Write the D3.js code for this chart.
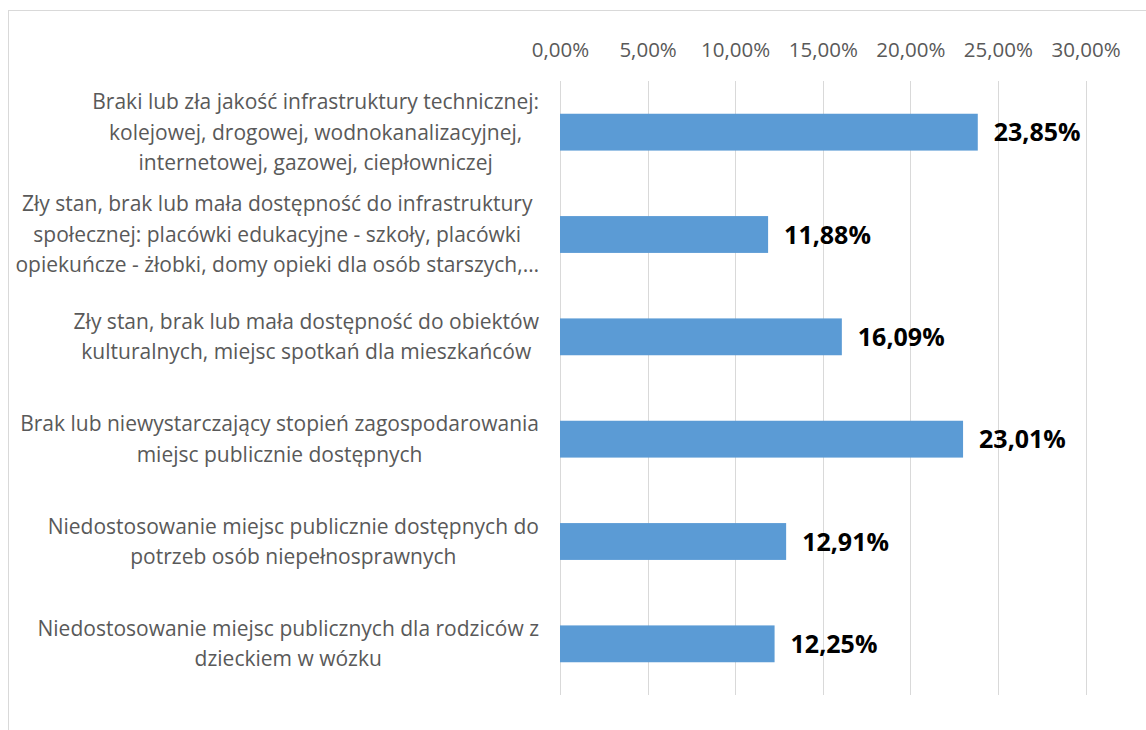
<!DOCTYPE html>
<html>
<head>
<meta charset="utf-8">
<script src="https://cdn.jsdelivr.net/npm/d3@7"></script>
<style>
  body { margin: 0; background: #fff; }
  svg { display: block; }
</style>
</head>
<body>
<script>
// category labels, already wrapped the way the chart shows them
const categories = [
  ["Braki lub zła jakość infrastruktury technicznej:", "kolejowej, drogowej, wodnokanalizacyjnej,", "internetowej, gazowej, ciepłowniczej"],
  ["Zły stan, brak lub mała dostępność do infrastruktury", "społecznej: placówki edukacyjne - szkoły, placówki", "opiekuńcze - żłobki, domy opieki dla osób starszych,…"],
  ["Zły stan, brak lub mała dostępność do obiektów", "kulturalnych, miejsc spotkań dla mieszkańców"],
  ["Brak lub niewystarczający stopień zagospodarowania", "miejsc publicznie dostępnych"],
  ["Niedostosowanie miejsc publicznie dostępnych do", "potrzeb osób niepełnosprawnych"],
  ["Niedostosowanie miejsc publicznych dla rodziców z", "dzieckiem w wózku"]
];
const values = [23.85, 11.88, 16.09, 23.01, 12.91, 12.25];
const ticks = [0, 5, 10, 15, 20, 25, 30];

const W = 1146, H = 730;
const font = "'Open Sans', 'Noto Sans', sans-serif";
const fmt = v => v.toFixed(2).replace(".", ",") + "%";

const svg = d3.select("body").append("svg")
  .attr("width", W).attr("height", H);

// chart frame
svg.append("rect")
  .attr("x", 8.5).attr("y", 10.5)
  .attr("width", W).attr("height", H)
  .attr("fill", "none").attr("stroke", "#d9d9d9");

const x = d3.scaleLinear().domain([0, 30]).range([560, 1085.5]);
const y = d3.scaleBand().domain(d3.range(values.length)).range([81, 695]).paddingInner(0.64).paddingOuter(0.32);

// gridlines
svg.append("g").selectAll("line").data(ticks).join("line")
  .attr("x1", d => Math.round(x(d)) + 0.5).attr("x2", d => Math.round(x(d)) + 0.5)
  .attr("y1", 81).attr("y2", 695)
  .attr("stroke", "#d9d9d9").attr("stroke-width", 1);

// top axis labels
const axis = d3.axisTop(x).tickValues(ticks).tickFormat(fmt).tickSize(0).tickPadding(0);
const ax = svg.append("g").attr("transform", "translate(0,57)").call(axis);
ax.select(".domain").remove();
ax.selectAll("text")
  .attr("font-family", font)
  .attr("font-size", 20.5)
  .attr("fill", "#595959");

// bars
svg.append("g").selectAll("rect").data(values).join("rect")
  .attr("x", x(0))
  .attr("y", (d, i) => y(i))
  .attr("width", d => x(d) - x(0))
  .attr("height", y.bandwidth())
  .attr("fill", "#5b9bd5");

// value labels
svg.append("g").selectAll("text").data(values).join("text")
  .attr("x", d => x(d) + 16)
  .attr("y", (d, i) => y(i) + y.bandwidth() / 2)
  .attr("dy", "0.36em")
  .attr("font-family", font)
  .attr("font-weight", "bold")
  .attr("font-size", 25)
  .attr("fill", "#000")
  .text(fmt);

// category labels: block right aligned, lines centred inside it
const lineH = 30.5;
const labelRight = 539;
const lab = svg.append("g").selectAll("g").data(categories).join("g");
lab.each(function (lines, i) {
  const g = d3.select(this);
  const cy = y(i) + y.bandwidth() / 2;
  const t = g.selectAll("text").data(lines).join("text")
    .attr("y", (d, k) => cy + (k - (lines.length - 1) / 2) * lineH)
    .attr("dy", "0.35em")
    .attr("text-anchor", "middle")
    .attr("font-family", font)
    .attr("font-size", 21)
    .attr("fill", "#595959")
    .text(d => d);
  let wmax = 0;
  t.each(function () { wmax = Math.max(wmax, this.getComputedTextLength()); });
  t.attr("x", labelRight - wmax / 2);
});
</script>
</body>
</html>
